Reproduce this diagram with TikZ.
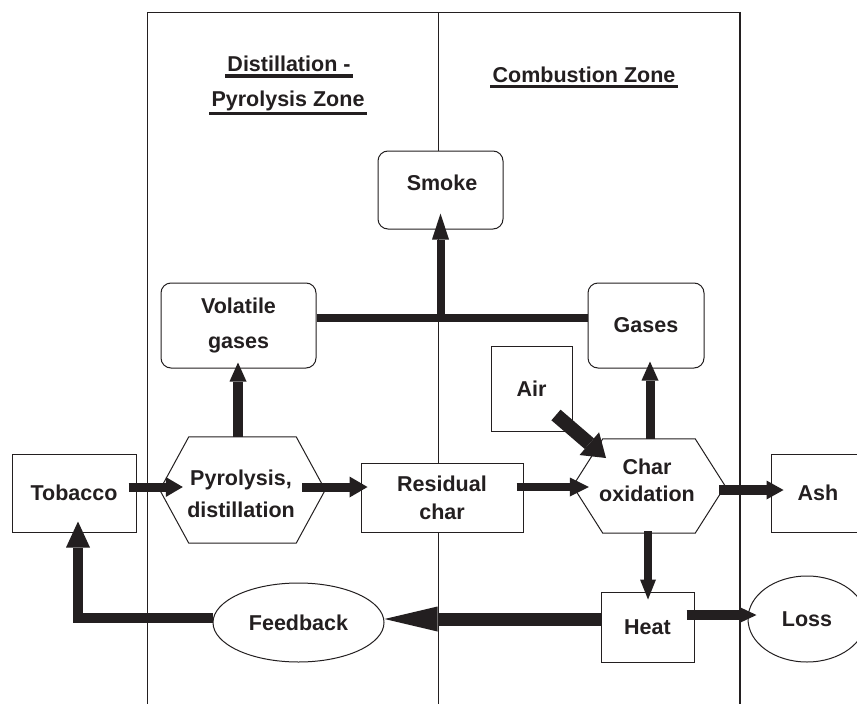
\documentclass[tikz,border=0pt]{standalone}
\usepackage{fontspec}
\setmainfont{Liberation Sans}
\usetikzlibrary{arrows.meta,calc,shapes.geometric}
\definecolor{ink}{HTML}{231F20}
\newcommand\lsz[1]{\fontsize{21.5}{#1}\selectfont\bfseries}
\begin{document}
\begin{tikzpicture}[x=1pt,y=-1pt,
  every node/.style={font=\lsz{26}, text=ink},
  box/.style={draw=ink, line width=1pt, fill=white, rectangle, inner sep=0pt, align=center},
  rbox/.style={box, rounded corners=10pt},
  oval/.style={draw=ink, line width=1pt, fill=white, ellipse, inner sep=0pt},
  hexn/.style={rectangle, inner sep=0pt},
  hexd/.style={draw=ink, line width=1pt, fill=white, line join=miter},
  thinline/.style={draw=ink, line width=1pt},
  uline/.style={draw=ink, line width=3.5pt},
  bar/.style={draw=ink, line width=8pt},
  flow/.style n args={3}{draw=ink, line width=#1, -{Triangle[length=#2, width=#3, line width=0pt]}}
]
\useasboundingbox (0,0) rectangle (857,704);
\clip (0,0) rectangle (857,704);
\fill[white] (0,0) rectangle (857,704);

% zone frame
\draw[thinline] (147,704) -- (147,12.5) -- (740,12.5);
\draw[thinline] (438,12.5) -- (438,704);
\draw[draw=ink, line width=2.2pt] (740,11.8) -- (740,704);

% headers
\node[anchor=base, inner sep=0pt] (h1) at (289,71) {Distillation -};
\node[anchor=base, inner sep=0pt] (h2) at (288,106) {Pyrolysis Zone};
\node[anchor=base, inner sep=0pt] (h3) at (584,82) {Combustion Zone};
\draw[uline] ($(h1.base west)+(-2,5)$) -- ($(h1.base east)+(2,5)$);
\draw[uline] ($(h2.base west)+(-2,7.5)$) -- ($(h2.base east)+(2,7.5)$);
\draw[uline] ($(h3.base west)+(-2,4.5)$) -- ($(h3.base east)+(2,4.5)$);

% boxes
\node[rbox, minimum width=125pt, minimum height=78pt] (smoke) at (440.5,190) {};
\node[inner sep=0pt] (smoketxt) at (442,183) {Smoke};
\node[rbox, minimum width=155pt, minimum height=85pt, font=\lsz{35}] (vol) at (238.5,325.5) {Volatile\\gases};
\node[rbox, minimum width=116pt, minimum height=85pt] (gases) at (646,325.5) {Gases};
\node[box, minimum width=81pt, minimum height=85pt] (air) at (531.5,388.5) {Air};
\node[box, minimum width=124pt, minimum height=78pt] (tob) at (74,493) {Tobacco};
\node[box, minimum width=162pt, minimum height=69pt, font=\lsz{28}] (res) at (442,497.5) {Residual\\char};
\node[box, minimum width=94pt, minimum height=78pt] (ash) at (818,493) {Ash};
\node[box, minimum width=93pt, minimum height=70pt] (heat) at (647.5,627) {Heat};
\node[oval, minimum width=171pt, minimum height=79pt] (fb) at (298.5,622.5) {Feedback};
\node[oval, minimum width=118pt, minimum height=86pt] (loss) at (807,619) {Loss};

% hexagons
\node[hexn, minimum width=165pt, minimum height=106pt] (pyro) at (242.5,490) {};
\draw[hexd] (pyro.west) -- ($(pyro.north west)+(29,0)$) -- ($(pyro.north east)+(-29,0)$) -- (pyro.east)
  -- ($(pyro.south east)+(-29,0)$) -- ($(pyro.south west)+(29,0)$) -- cycle;
\node[inner sep=0pt, align=center, font=\lsz{32}] (pyrotxt) at (241,494) {Pyrolysis,\\distillation};
\node[hexn, minimum width=152pt, minimum height=94pt] (char) at (649,486) {};
\draw[hexd] (char.west) -- ($(char.north west)+(30,0)$) -- ($(char.north east)+(-30,0)$) -- (char.east)
  -- ($(char.south east)+(-30,0)$) -- ($(char.south west)+(30,0)$) -- cycle;
\node[inner sep=0pt, align=center, font=\lsz{27}] (chartxt) at (647,480.5) {Char\\oxidation};

% connectors
\draw[flow={9pt}{17pt}{20pt}] ($(tob.east)+(-8,-6)$) -- ($(pyro.west)+(23,-3)$);
\draw[flow={9pt}{18pt}{21pt}] ($(pyro.east)+(-23,-3)$) -- ($(res.west)+(7,-10.5)$);
\draw[flow={8.5pt}{19pt}{19pt}] ($(res.east)+(-7,-10.5)$) -- ($(char.west)+(16,1)$);
\draw[flow={10pt}{17pt}{19pt}] ($(char.east)+(-6,4)$) -- ($(ash.west)+(13,-3)$);
\draw[flow={10pt}{19pt}{17pt}] ($(pyro.north)+(-4.5,0)$) -- ($(vol.south)+(-0.5,-6)$);
\draw[flow={9pt}{19pt}{17pt}] ($(char.north)+(1,0)$) -- ($(gases.south)+(4,-7)$);
\coordinate (jn) at ($(smoke.south |- vol.east)+(0,-7.5)$);
\draw[bar] ($(vol.east)+(0,-7.5)$) -- ($(gases.west)+(0,-7.5)$);
\draw[flow={8pt}{26pt}{17pt}] (jn) -- ($(smoke.south)+(0,-16)$);
\draw[flow={14pt}{22pt}{30pt}] ($(air.center)+(24.5,26.5)$) -- ($(char.center)+(-43,-28)$);
\draw[flow={8pt}{20pt}{16pt}] ($(char.south)+(-1,-2)$) -- ($(heat.north)+(0.5,8)$);
\draw[flow={10pt}{17pt}{16pt}] ($(heat.east)+(-8,-12)$) -- ($(loss.west)+(9,-4)$);
\draw[flow={13pt}{53pt}{25pt}] ($(heat.west)+(0,-8)$) -- ($(fb.east)+(0,-3.5)$);
\draw[flow={10pt}{26pt}{24pt}] ($(fb.west)+(0,-4.5)$) -| ($(tob.south)+(4,-11)$);
\end{tikzpicture}
\end{document}
